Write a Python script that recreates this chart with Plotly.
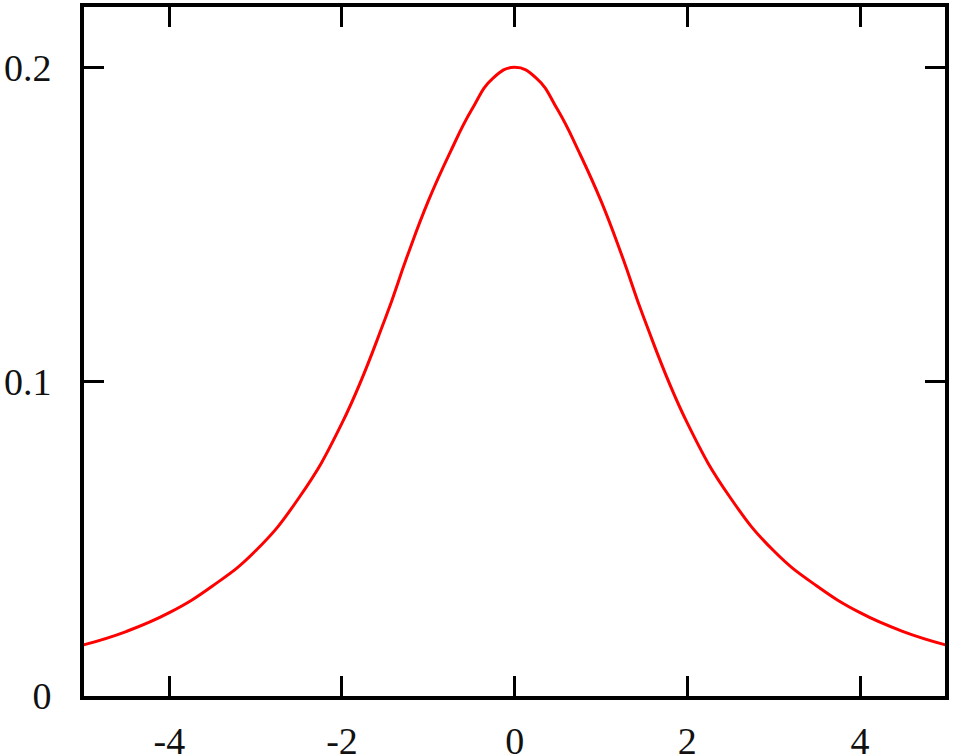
import plotly.graph_objects as go

# values
x_vals = [-5.0, -4.5, -4.0, -3.5, -3.0, -2.5, -2.0, -1.5, -1.25, -1.0, -0.75, -0.5, -0.25, 0.0,
          0.25, 0.5, 0.75, 1.0, 1.25, 1.5, 2.0, 2.5, 3.0, 3.5, 4.0, 4.5, 5.0]
y_vals = [0.0162, 0.0205, 0.0265, 0.0350, 0.0462, 0.0630, 0.0868, 0.1200, 0.1395, 0.1575, 0.1728, 0.1864, 0.1966, 0.2000,
          0.1966, 0.1864, 0.1728, 0.1575, 0.1395, 0.1200, 0.0868, 0.0630, 0.0462, 0.0350, 0.0265, 0.0205, 0.0162]
x_ticks = [-4, -2, 0, 2, 4]
x_tick_text = ["-4", "-2", "0", "2", "4"]
y_ticks = [0, 0.1, 0.2]
y_tick_text = ["0", "0.1", "0.2"]

fig = go.Figure()
fig.add_trace(go.Scatter(
    x=x_vals, y=y_vals, mode="lines",
    line=dict(color="#ff0000", width=3, shape="spline", smoothing=1.3),
    showlegend=False, hoverinfo="skip",
))

font = dict(family="Liberation Serif, Times New Roman, serif", size=38, color="#111111")

fig.update_layout(
    width=953, height=755,
    margin=dict(l=84, r=8, t=7, b=59),
    paper_bgcolor="white", plot_bgcolor="white",
    showlegend=False,
)
fig.update_xaxes(
    range=[-4.988, 4.984], tickvals=x_ticks, ticktext=x_tick_text,
    showline=True, linecolor="black", linewidth=4, mirror="allticks",
    ticks="inside", ticklen=20, tickwidth=3, tickcolor="black",
    showgrid=False, zeroline=False, tickfont=font, ticklabelstandoff=8,
    automargin=False,
)
fig.update_yaxes(
    range=[0, 0.2192], tickvals=y_ticks, ticktext=y_tick_text,
    showline=True, linecolor="black", linewidth=4, mirror="allticks",
    ticks="inside", ticklen=20, tickwidth=3, tickcolor="black",
    showgrid=False, zeroline=False, tickfont=font, ticklabelstandoff=21,
    automargin=False,
)

fig.write_html("out.html", config={"displayModeBar": False},
               post_script="document.body.style.margin='0';")
